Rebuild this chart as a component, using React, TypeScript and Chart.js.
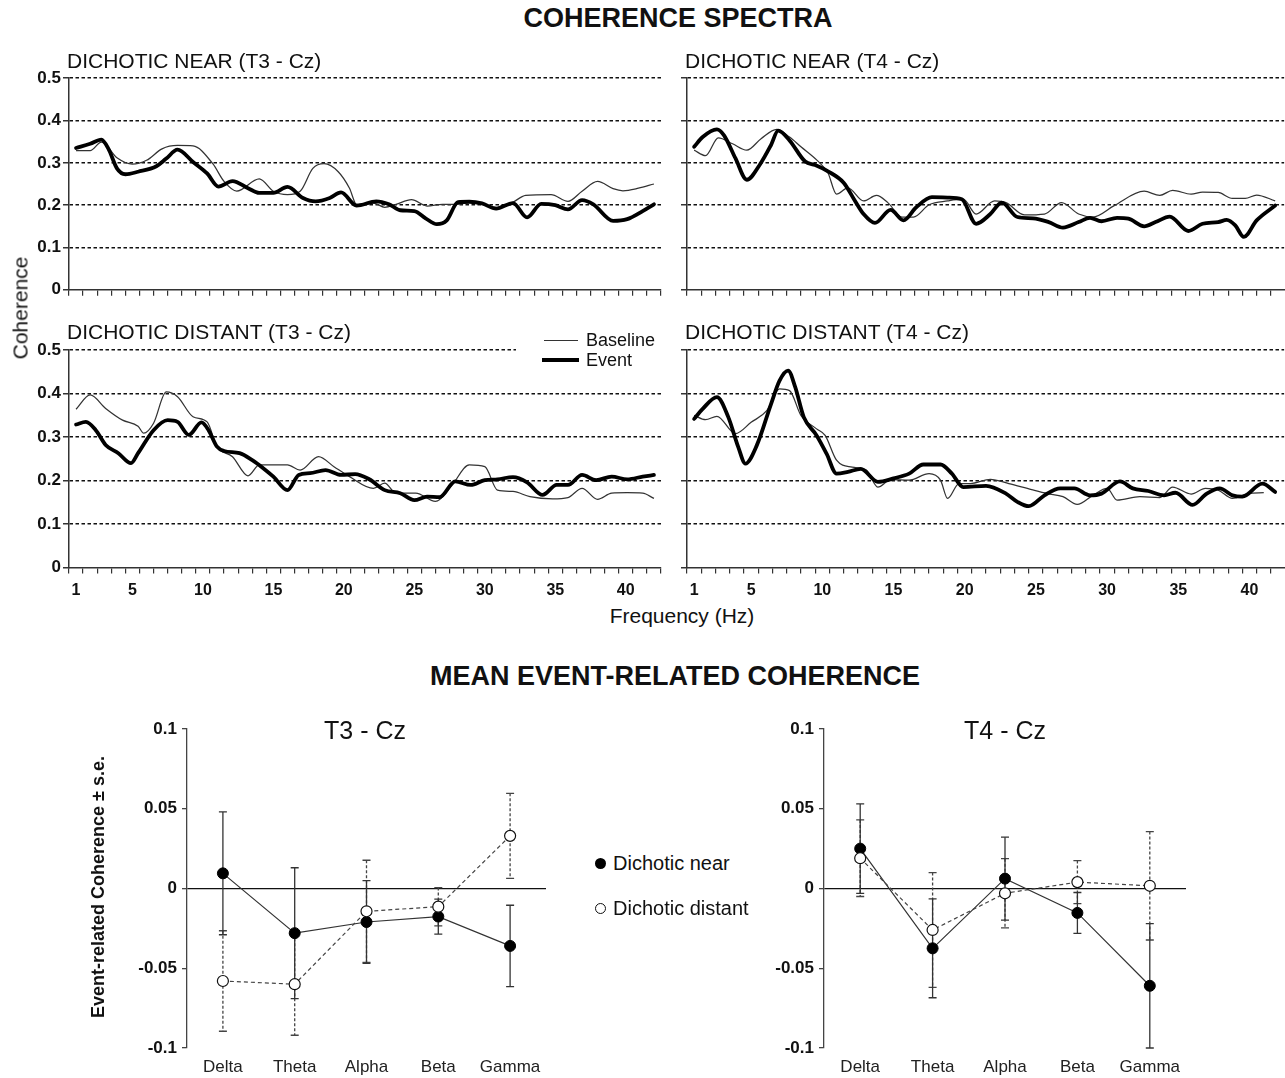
import React, { useEffect, useRef } from 'react';
import { Chart, registerables } from 'chart.js';

Chart.register(...registerables);

const FONT = '"Liberation Sans", Arial, Helvetica, sans-serif';
Chart.defaults.font.family = FONT;

// ---------- Tick labels ----------
const HZ_LABELS = [1, 5, 10, 15, 20, 25, 30, 35, 40];
const SPEC_Y_TICKS = [0, 0.1, 0.2, 0.3, 0.4, 0.5];
const MEAN_Y_TICKS = [-0.1, -0.05, 0, 0.05, 0.1];
const BANDS = ['Delta', 'Theta', 'Alpha', 'Beta', 'Gamma'];

// ---------- Coherence spectra: Dichotic near (T3 - Cz) ----------
const nearT3EventHz = [1.0, 2.0, 2.8, 3.3, 3.9, 4.5, 5.4, 6.7, 7.4, 8.2, 9.3, 10.3, 11.1, 12.1, 13.2, 14.0, 15.0, 16.0, 17.1, 18.0, 19.0, 19.8, 20.9, 22.3, 23.2, 24.0, 25.0, 25.8, 26.6, 27.3, 28.1, 28.9, 29.8, 30.8, 32.0, 33.0, 34.0, 35.0, 35.9, 36.9, 37.7, 39.1, 40.1, 41.2, 42.0];
const nearT3EventVal = [0.335, 0.345, 0.355, 0.333, 0.287, 0.273, 0.279, 0.292, 0.31, 0.331, 0.302, 0.275, 0.244, 0.257, 0.24, 0.229, 0.229, 0.243, 0.217, 0.209, 0.217, 0.23, 0.199, 0.209, 0.202, 0.188, 0.186, 0.169, 0.155, 0.164, 0.207, 0.208, 0.204, 0.192, 0.205, 0.171, 0.203, 0.2, 0.19, 0.212, 0.202, 0.163, 0.167, 0.186, 0.202];
const nearT3BaseHz = [1.0, 2.0, 2.8, 3.9, 5.0, 6.0, 7.1, 8.2, 9.3, 10.7, 11.5, 12.4, 14.0, 15.0, 16.0, 16.9, 17.8, 18.6, 19.6, 20.4, 20.9, 22.1, 22.9, 23.7, 24.8, 25.9, 27.0, 28.1, 29.2, 30.9, 31.9, 32.9, 34.7, 35.9, 36.9, 38.0, 39.1, 39.8, 40.9, 42.0];
const nearT3BaseVal = [0.329, 0.329, 0.349, 0.312, 0.297, 0.306, 0.333, 0.341, 0.34, 0.298, 0.256, 0.233, 0.262, 0.233, 0.225, 0.233, 0.287, 0.298, 0.279, 0.24, 0.202, 0.205, 0.195, 0.202, 0.213, 0.198, 0.202, 0.202, 0.207, 0.194, 0.205, 0.223, 0.225, 0.209, 0.233, 0.256, 0.239, 0.234, 0.24, 0.25];

// ---------- Dichotic near (T4 - Cz) ----------
const nearT4EventHz = [1.0, 1.6, 2.6, 3.1, 3.9, 4.7, 5.6, 6.4, 6.9, 7.7, 8.8, 9.5, 10.4, 11.5, 12.3, 12.9, 13.7, 14.8, 15.7, 16.6, 17.7, 18.8, 19.8, 20.8, 21.8, 22.6, 23.7, 24.8, 25.9, 26.9, 28.0, 28.8, 29.6, 30.7, 31.5, 32.6, 33.4, 34.4, 35.7, 36.7, 37.8, 38.4, 39.0, 39.6, 40.5, 41.8];
const nearT4EventVal = [0.338, 0.361, 0.379, 0.365, 0.311, 0.26, 0.295, 0.342, 0.376, 0.353, 0.303, 0.295, 0.28, 0.253, 0.21, 0.179, 0.158, 0.189, 0.164, 0.195, 0.219, 0.218, 0.214, 0.156, 0.179, 0.206, 0.172, 0.169, 0.16, 0.147, 0.16, 0.17, 0.162, 0.17, 0.168, 0.15, 0.16, 0.173, 0.139, 0.156, 0.16, 0.165, 0.152, 0.125, 0.164, 0.199];
const nearT4BaseHz = [1.0, 1.8, 2.7, 3.7, 4.7, 5.7, 6.8, 7.7, 8.5, 9.6, 10.4, 11.0, 11.8, 12.9, 13.8, 14.6, 15.6, 16.4, 17.5, 18.8, 19.9, 20.8, 22.1, 22.9, 24.2, 25.6, 26.8, 28.0, 29.0, 30.5, 32.6, 33.7, 34.6, 35.9, 36.7, 37.8, 38.8, 39.7, 40.5, 41.8];
const nearT4BaseVal = [0.33, 0.317, 0.359, 0.345, 0.33, 0.357, 0.379, 0.361, 0.338, 0.307, 0.276, 0.226, 0.241, 0.21, 0.223, 0.206, 0.172, 0.172, 0.201, 0.21, 0.214, 0.179, 0.21, 0.206, 0.177, 0.179, 0.206, 0.179, 0.172, 0.199, 0.233, 0.223, 0.235, 0.226, 0.231, 0.23, 0.216, 0.216, 0.224, 0.21];

// ---------- Dichotic distant (T3 - Cz) ----------
const distT3EventHz = [1.0, 1.7, 2.4, 3.1, 4.0, 4.9, 5.4, 6.5, 7.5, 8.2, 9.0, 9.9, 10.4, 11.0, 11.5, 12.6, 13.5, 14.3, 15.0, 16.0, 16.8, 17.6, 18.7, 19.8, 20.8, 21.8, 22.9, 24.0, 25.0, 25.9, 26.8, 27.9, 29.0, 30.0, 30.9, 32.0, 33.0, 34.1, 35.1, 35.9, 36.9, 37.9, 39.0, 40.1, 41.2, 42.0];
const distT3EventVal = [0.329, 0.335, 0.316, 0.282, 0.263, 0.24, 0.263, 0.316, 0.339, 0.335, 0.305, 0.334, 0.316, 0.278, 0.268, 0.263, 0.247, 0.228, 0.209, 0.178, 0.213, 0.217, 0.224, 0.213, 0.215, 0.203, 0.178, 0.171, 0.155, 0.163, 0.162, 0.198, 0.19, 0.201, 0.203, 0.208, 0.196, 0.167, 0.19, 0.19, 0.213, 0.201, 0.209, 0.203, 0.209, 0.213];
const distT3BaseHz = [1.0, 2.0, 3.1, 4.3, 5.4, 5.8, 6.5, 7.4, 8.2, 9.3, 10.3, 11.0, 12.1, 13.2, 14.0, 16.0, 16.9, 18.2, 19.3, 20.4, 22.1, 22.9, 23.7, 25.1, 26.5, 27.6, 28.9, 30.0, 30.9, 32.0, 33.2, 34.8, 35.9, 36.9, 38.0, 39.0, 40.1, 41.2, 42.0];
const distT3BaseVal = [0.364, 0.397, 0.366, 0.339, 0.325, 0.309, 0.332, 0.404, 0.393, 0.347, 0.335, 0.278, 0.255, 0.211, 0.236, 0.236, 0.224, 0.255, 0.232, 0.209, 0.182, 0.194, 0.171, 0.171, 0.152, 0.186, 0.236, 0.232, 0.178, 0.175, 0.163, 0.158, 0.161, 0.182, 0.157, 0.171, 0.172, 0.171, 0.159];

// ---------- Dichotic distant (T4 - Cz) ----------
const distT4EventHz = [1.0, 1.6, 2.6, 3.4, 4.1, 4.6, 5.4, 6.4, 7.0, 7.6, 8.1, 8.7, 9.6, 10.3, 11.0, 11.8, 12.7, 13.9, 15.0, 16.1, 17.1, 18.3, 19.1, 19.9, 21.5, 22.9, 23.7, 24.5, 25.6, 26.7, 27.7, 28.8, 29.6, 30.9, 31.8, 32.9, 34.0, 34.8, 36.0, 37.0, 37.9, 38.8, 39.5, 40.9, 41.8];
const distT4EventVal = [0.342, 0.365, 0.392, 0.346, 0.277, 0.239, 0.281, 0.376, 0.43, 0.453, 0.415, 0.346, 0.304, 0.262, 0.216, 0.22, 0.227, 0.197, 0.205, 0.216, 0.237, 0.237, 0.216, 0.185, 0.188, 0.17, 0.151, 0.141, 0.166, 0.182, 0.182, 0.166, 0.17, 0.198, 0.182, 0.176, 0.166, 0.172, 0.144, 0.17, 0.182, 0.166, 0.163, 0.193, 0.174];
const distT4BaseHz = [1.0, 1.8, 2.6, 3.9, 5.0, 6.1, 7.0, 7.7, 8.5, 9.6, 10.2, 11.0, 12.1, 13.1, 13.9, 14.8, 16.1, 17.5, 18.3, 18.8, 19.6, 20.4, 21.8, 23.1, 24.7, 25.8, 26.9, 27.9, 29.0, 30.0, 30.7, 32.3, 33.7, 34.6, 35.9, 36.9, 37.8, 38.8, 39.9, 41.0];
const distT4BaseVal = [0.35, 0.34, 0.348, 0.308, 0.334, 0.361, 0.411, 0.407, 0.35, 0.319, 0.304, 0.247, 0.231, 0.224, 0.185, 0.202, 0.201, 0.216, 0.201, 0.159, 0.193, 0.193, 0.203, 0.193, 0.179, 0.17, 0.163, 0.145, 0.166, 0.182, 0.155, 0.163, 0.161, 0.185, 0.169, 0.182, 0.178, 0.159, 0.17, 0.172];

// ---------- Mean event-related coherence ----------
const t3Near = [0.0095, -0.028, -0.021, -0.0176, -0.036];
const t3NearSe = [0.0385, 0.041, 0.026, 0.011, 0.0255];
const t3Distant = [-0.058, -0.06, -0.0143, -0.0114, 0.033];
const t3DistantSe = [0.0315, 0.032, 0.032, 0.012, 0.0267];
const t4Near = [0.025, -0.0375, 0.0062, -0.0153, -0.061];
const t4NearSe = [0.028, 0.031, 0.026, 0.0128, 0.039];
const t4Distant = [0.019, -0.026, -0.003, 0.004, 0.0017];
const t4DistantSe = [0.024, 0.036, 0.0217, 0.0135, 0.034];

const zip = (xs: number[], ys: number[]) => xs.map((x, i) => ({ x, y: ys[i] }));
const CLEAR = 'rgba(0,0,0,0)';

function spectrumConfig(
  eventHz: number[], eventVal: number[], baseHz: number[], baseVal: number[],
  o: { yLabels: boolean; xLabels: boolean; yw: number; xh: number; xMax: number }
): any {
  return {
    type: 'line',
    data: {
      datasets: [
        { label: 'Event', data: zip(eventHz, eventVal), borderColor: '#000', borderWidth: 3.8, pointRadius: 0, cubicInterpolationMode: 'monotone', borderJoinStyle: 'round', borderCapStyle: 'round' },
        { label: 'Baseline', data: zip(baseHz, baseVal), borderColor: '#333', borderWidth: 1.25, pointRadius: 0, cubicInterpolationMode: 'monotone' },
      ],
    },
    options: {
      animation: false,
      responsive: false,
      events: [],
      layout: { padding: { top: 12, left: 0, right: 0, bottom: 0 } },
      plugins: { legend: { display: false }, tooltip: { enabled: false } },
      scales: {
        x: {
          type: 'linear', min: 0.5, max: o.xMax,
          afterBuildTicks: (s: any) => {
            const t: any[] = [];
            for (let v = 0.5; v <= o.xMax + 1e-9; v += 0.5) t.push({ value: v });
            s.ticks = t;
          },
          afterFit: (s: any) => { s.height = o.xh; },
          ticks: {
            autoSkip: false, maxRotation: 0, minRotation: 0, padding: 7, color: '#111',
            font: { family: FONT, size: 16, weight: 'bold' },
            callback: (v: number) => (o.xLabels && HZ_LABELS.includes(v) ? String(v) : ''),
          },
          grid: {
            drawOnChartArea: false, drawTicks: true, tickLength: 6, lineWidth: 1.2,
            tickColor: (c: any) => (c.tick && c.tick.value % 1 !== 0 ? '#333' : CLEAR),
          },
          border: { display: true, color: '#333', width: 1.5 },
        },
        y: {
          min: 0, max: 0.5,
          afterBuildTicks: (s: any) => { s.ticks = SPEC_Y_TICKS.map((value) => ({ value })); },
          afterFit: (s: any) => { s.width = o.yw; },
          ticks: {
            padding: 2, color: '#111', font: { family: FONT, size: 17, weight: 'bold' },
            callback: (v: number) => (o.yLabels ? (v === 0 ? '0' : v.toFixed(1)) : ''),
          },
          grid: {
            drawOnChartArea: true, drawTicks: true, tickLength: 6, lineWidth: 1.5,
            color: (c: any) => (c.tick && c.tick.value === 0 ? CLEAR : '#111'),
            tickColor: '#333',
          },
          border: { display: true, color: '#333', width: 1.5, dash: [3.5, 2.5] },
        },
      },
    },
  };
}

const errorBarPlugin = {
  id: 'errorBars',
  beforeDatasetsDraw(chart: any) {
    const { ctx } = chart;
    const y = chart.scales.y;
    chart.data.datasets.forEach((ds: any, di: number) => {
      if (!ds.errorBars) return;
      const meta = chart.getDatasetMeta(di);
      ctx.save();
      ctx.strokeStyle = ds.errorColor || '#333';
      ctx.lineWidth = 1.3;
      ds.data.forEach((v: number, i: number) => {
        const px = meta.data[i].x;
        const top = y.getPixelForValue(v + ds.errorBars[i]);
        const bot = y.getPixelForValue(v - ds.errorBars[i]);
        ctx.setLineDash(ds.errorDash || []);
        ctx.beginPath();
        ctx.moveTo(px, top);
        ctx.lineTo(px, bot);
        ctx.stroke();
        ctx.setLineDash([]);
        ctx.beginPath();
        ctx.moveTo(px - 4, top);
        ctx.lineTo(px + 4, top);
        ctx.moveTo(px - 4, bot);
        ctx.lineTo(px + 4, bot);
        ctx.stroke();
      });
      ctx.restore();
    });
  },
};

function meanConfig(near: number[], nearSe: number[], distant: number[], distantSe: number[], yw: number): any {
  return {
    type: 'line',
    data: {
      labels: BANDS,
      datasets: [
        {
          label: 'Dichotic distant', data: distant, errorBars: distantSe, errorDash: [3, 2], errorColor: '#444',
          borderColor: '#444', borderWidth: 1.2, borderDash: [4, 3], tension: 0,
          pointRadius: 5.5, pointBackgroundColor: '#fff', pointBorderColor: '#111', pointBorderWidth: 1.2,
        },
        {
          label: 'Dichotic near', data: near, errorBars: nearSe, errorDash: [], errorColor: '#333',
          borderColor: '#333', borderWidth: 1.2, tension: 0,
          pointRadius: 5.5, pointBackgroundColor: '#000', pointBorderColor: '#000', pointBorderWidth: 1,
        },
      ],
    },
    plugins: [errorBarPlugin],
    options: {
      animation: false,
      responsive: false,
      events: [],
      layout: { padding: { top: 17, left: 0, right: 14, bottom: 0 } },
      plugins: { legend: { display: false }, tooltip: { enabled: false } },
      scales: {
        x: {
          type: 'category', offset: true,
          afterFit: (s: any) => { s.height = 30; },
          grid: { display: false, drawTicks: false },
          border: { display: false },
          ticks: { padding: 9, color: '#222', font: { family: FONT, size: 17 } },
        },
        y: {
          min: -0.1, max: 0.1,
          afterBuildTicks: (s: any) => { s.ticks = MEAN_Y_TICKS.map((value) => ({ value })); },
          afterFit: (s: any) => { s.width = yw; },
          ticks: {
            padding: 5, color: '#111', font: { family: FONT, size: 17, weight: 'bold' },
            callback: (v: number) => (v === 0 ? '0' : String(v)),
          },
          grid: {
            drawOnChartArea: true, tickLength: 5, lineWidth: 1.3,
            color: (c: any) => (c.tick && c.tick.value === 0 ? '#111' : CLEAR),
            tickColor: '#444',
          },
          border: { display: true, color: '#444', width: 1.3 },
        },
      },
    },
  };
}

function ChartBox(props: { left: number; top: number; width: number; height: number; make: () => any }) {
  const ref = useRef<HTMLCanvasElement>(null);
  useEffect(() => {
    const chart = new Chart(ref.current as HTMLCanvasElement, props.make());
    return () => chart.destroy();
  }, []);
  return (
    <canvas
      ref={ref}
      width={props.width}
      height={props.height}
      style={{ position: 'absolute', left: props.left, top: props.top, width: props.width, height: props.height }}
    />
  );
}

function Text(props: { x: number; y: number; size: number; bold?: boolean; center?: boolean; rotate?: boolean; children: any }) {
  const tf = props.rotate
    ? 'translate(-50%, -50%) rotate(-90deg)'
    : props.center
    ? 'translate(-50%, -50%)'
    : 'translate(0, -50%)';
  return (
    <div
      style={{
        position: 'absolute', left: props.x, top: props.y, transform: tf, whiteSpace: 'nowrap',
        fontSize: props.size, fontWeight: props.bold ? 'bold' : 'normal', lineHeight: 1, color: '#111',
      }}
    >
      {props.children}
    </div>
  );
}

export default function App() {
  return (
    <div
      style={{
        position: 'absolute', left: 0, top: 0, width: 1285, height: 1078, background: '#fff',
        overflow: 'hidden', fontFamily: FONT,
      }}
    >
      <Text x={678} y={18} size={27} bold center>COHERENCE SPECTRA</Text>

      <ChartBox left={0} top={66} width={668} height={236}
        make={() => spectrumConfig(nearT3EventHz, nearT3EventVal, nearT3BaseHz, nearT3BaseVal, { yLabels: true, xLabels: false, yw: 69, xh: 8, xMax: 42.5 })} />
      <ChartBox left={680} top={66} width={605} height={236}
        make={() => spectrumConfig(nearT4EventHz, nearT4EventVal, nearT4BaseHz, nearT4BaseVal, { yLabels: false, xLabels: false, yw: 7, xh: 8, xMax: 42.43 })} />
      <ChartBox left={0} top={338} width={668} height={264}
        make={() => spectrumConfig(distT3EventHz, distT3EventVal, distT3BaseHz, distT3BaseVal, { yLabels: true, xLabels: true, yw: 69, xh: 34.5, xMax: 42.5 })} />
      <ChartBox left={680} top={338} width={605} height={264}
        make={() => spectrumConfig(distT4EventHz, distT4EventVal, distT4BaseHz, distT4BaseVal, { yLabels: false, xLabels: true, yw: 7, xh: 34.5, xMax: 42.43 })} />

      <Text x={67} y={60} size={21}>DICHOTIC NEAR (T3 - Cz)</Text>
      <Text x={685} y={60} size={21}>DICHOTIC NEAR (T4 - Cz)</Text>
      <Text x={67} y={331} size={21}>DICHOTIC DISTANT (T3 - Cz)</Text>
      <Text x={685} y={331} size={21}>DICHOTIC DISTANT (T4 - Cz)</Text>
      <Text x={20} y={308} size={21} rotate>Coherence</Text>
      <Text x={682} y={615} size={21} center>Frequency (Hz)</Text>

      {/* spectra legend */}
      <div style={{ position: 'absolute', left: 516, top: 343, width: 152, height: 25, background: '#fff' }} />
      <div style={{ position: 'absolute', left: 544, top: 340, width: 34, height: 0, borderTop: '1.3px solid #333' }} />
      <div style={{ position: 'absolute', left: 542, top: 358, width: 37, height: 4, background: '#000' }} />
      <Text x={586} y={340} size={18}>Baseline</Text>
      <Text x={586} y={360} size={18}>Event</Text>

      <Text x={675} y={676} size={27} bold center>MEAN EVENT-RELATED COHERENCE</Text>

      <ChartBox left={100} top={712} width={460} height={366}
        make={() => meanConfig(t3Near, t3NearSe, t3Distant, t3DistantSe, 87)} />
      <ChartBox left={740} top={712} width={460} height={366}
        make={() => meanConfig(t4Near, t4NearSe, t4Distant, t4DistantSe, 84)} />

      <Text x={365} y={730} size={25} center>T3 - Cz</Text>
      <Text x={1005} y={730} size={25} center>T4 - Cz</Text>
      <Text x={98} y={887} size={18} bold rotate>Event-related Coherence ± s.e.</Text>

      {/* mean legend */}
      <div style={{ position: 'absolute', left: 595, top: 858, width: 11, height: 11, borderRadius: '50%', background: '#000' }} />
      <Text x={613} y={863} size={20}>Dichotic near</Text>
      <div style={{ position: 'absolute', left: 595, top: 903, width: 9, height: 9, borderRadius: '50%', background: '#fff', border: '1.2px solid #111' }} />
      <Text x={613} y={908} size={20}>Dichotic distant</Text>
    </div>
  );
}
